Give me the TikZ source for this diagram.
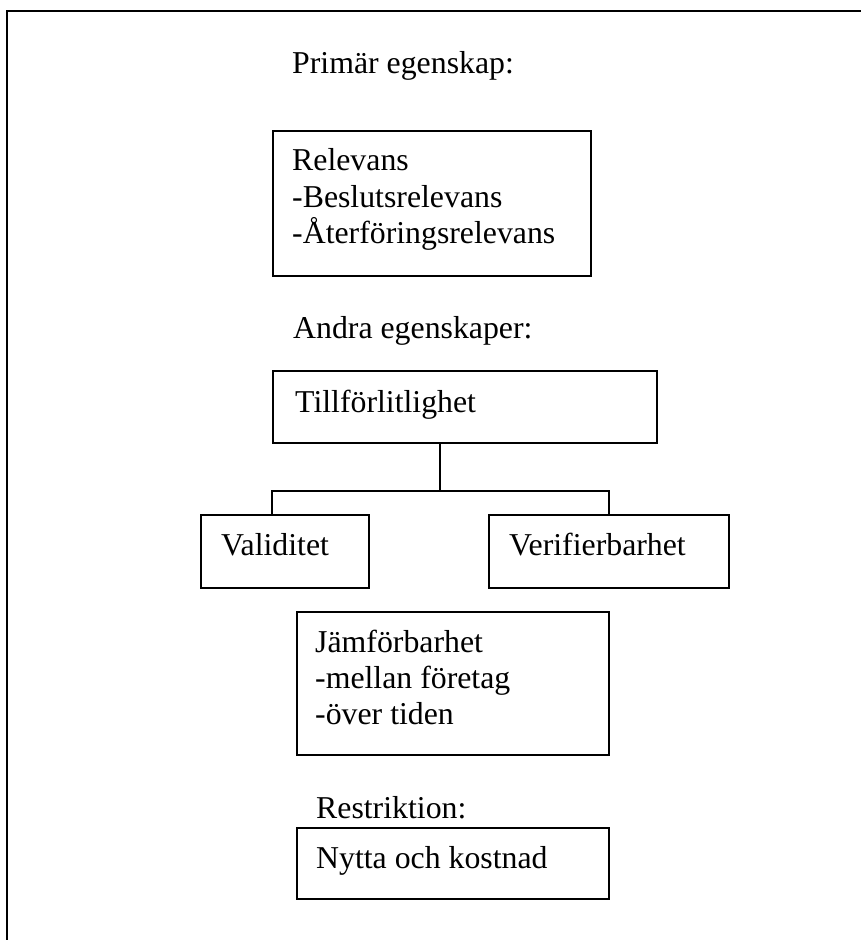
\documentclass[tikz,border=0pt]{standalone}
\usepackage{fontspec}
\setmainfont{Liberation Serif}
\begin{document}
\begin{tikzpicture}[x=1pt,y=-1pt,
  box/.style={draw=black,line width=2pt,inner sep=0pt,anchor=north west},
  txt/.style={inner sep=0pt,anchor=base west,font=\fontsize{31.8}{36}\selectfont},
  conn/.style={draw=black,line width=2pt}]
\useasboundingbox (0,0) rectangle (861,940);
% frame
\draw[line width=2pt] (861,11) -- (7,11) -- (7,941);
% boxes
\node[box,minimum width=318pt,minimum height=145pt] (rel) at (272,130) {};
\node[box,minimum width=384pt,minimum height=72pt] (till) at (272,370) {};
\node[box,minimum width=168pt,minimum height=73pt] (val) at (200,514) {};
\node[box,minimum width=240pt,minimum height=73pt] (ver) at (488,514) {};
\node[box,minimum width=312pt,minimum height=143pt] (jam) at (296,611) {};
\node[box,minimum width=312pt,minimum height=71pt] (nyt) at (296,827) {};
% texts
\node[txt] (prim) at (292,73) {Primär egenskap:};
\node[txt] (rel1) at (292,170) {Relevans};
\node[txt] (rel2) at (292,207) {-Beslutsrelevans};
\node[txt] (rel3) at (292,243) {-Återföringsrelevans};
\node[txt] (andra) at (293,338) {Andra egenskaper:};
\node[txt] (tillt) at (295,412) {Tillförlitlighet};
\node[txt] (valt) at (221,555) {Validitet};
\node[txt] (vert) at (509,555) {Verifierbarhet};
\node[txt] (jam1) at (315,652) {Jämförbarhet};
\node[txt] (jam2) at (315,688) {-mellan företag};
\node[txt] (jam3) at (315,724) {-över tiden};
\node[txt] (restr) at (316,818) {Restriktion:};
\node[txt] (nytt) at (316,868) {Nytta och kostnad};
% connectors
\coordinate (j) at (440,491);
\coordinate (jl) at (272,491);
\draw[conn] (till.south -| j) -- (j);
\draw[conn] (val.north -| jl) -- (jl) -- (ver.north |- j) -- (ver.north);
\end{tikzpicture}
\end{document}
